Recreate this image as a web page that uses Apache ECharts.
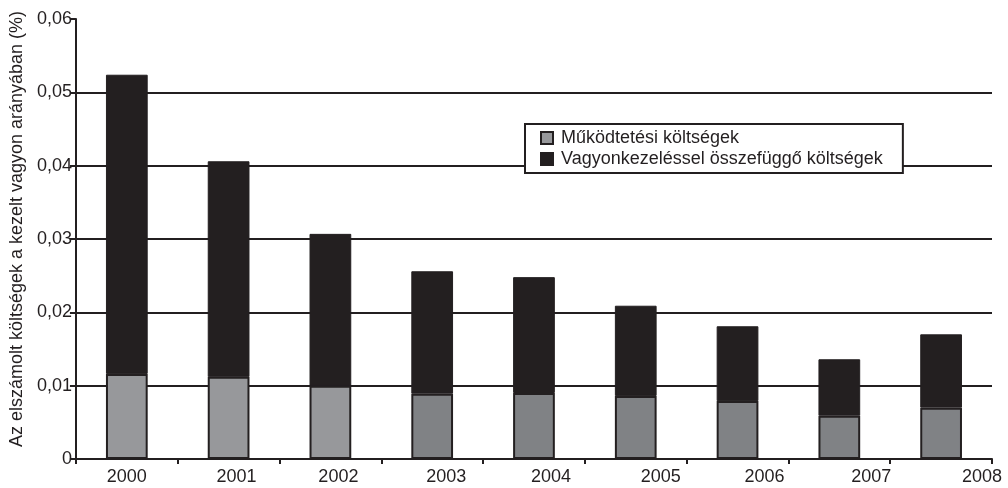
<!DOCTYPE html>
<html>
<head>
<meta charset="utf-8">
<script src="https://cdn.jsdelivr.net/npm/echarts@6/dist/echarts.min.js"></script>
<style>html,body{margin:0;padding:0;background:#fff}#c{width:1008px;height:488px}</style>
</head>
<body>
<div id="c"></div>
<script>
var years = ['2000','2001','2002','2003','2004','2005','2006','2007','2008'];
var mukodtetesi = [0.0116,0.0112,0.0100,0.0089,0.0090,0.0086,0.0079,0.0059,0.0070];
var vagyonkezeles = [0.0408,0.0294,0.0207,0.0167,0.0158,0.0123,0.0102,0.0077,0.0100];
var yTicks = [0, 0.01, 0.02, 0.03, 0.04, 0.05, 0.06];
var seriesNames = ['Működtetési költségek','Vagyonkezeléssel összefüggő költségek'];
var yAxisName = 'Az elszámolt költségek a kezelt vagyon arányában (%)';

var BLACK = '#231f20';
var LIGHT = '#97989b';
var DARK = '#808285';
var FONT = 'Liberation Sans, Arial, sans-serif';
var FS = 18;
var labelShift = [0, 8, 8, 14, 17, 25, 27, 32, 41];

var rich = {};
labelShift.forEach(function (s, i) {
  rich['l' + i] = { fontSize: FS, fontFamily: FONT, color: BLACK, padding: [0, 0, 0, 2 * s] };
});

var chart = echarts.init(document.getElementById('c'), null, { renderer: 'canvas' });
chart.setOption({
  animation: false,
  backgroundColor: '#fff',
  grid: { left: 73, right: 16, top: 19, bottom: 29, containLabel: false },
  legend: {
    orient: 'vertical',
    left: 525, top: 124,
    data: seriesNames,
    backgroundColor: '#fff',
    borderColor: BLACK, borderWidth: 2, borderRadius: 0,
    padding: [5, 20, 5, 15],
    itemWidth: 12, itemHeight: 12, itemGap: 3,
    icon: 'rect',
    textStyle: { fontSize: FS, fontFamily: FONT, color: BLACK, padding: [0, 0, 0, 3] },
    z: 10
  },
  xAxis: {
    type: 'category',
    data: years,
    axisLine: { lineStyle: { color: BLACK, width: 2 } },
    axisTick: { show: true, length: 5, lineStyle: { color: BLACK, width: 2 } },
    axisLabel: {
      margin: 9,
      formatter: function (v, i) { return '{l' + i + '|' + v + '}'; },
      rich: rich
    },
    splitLine: { show: false }
  },
  yAxis: {
    type: 'value',
    min: yTicks[0], max: yTicks[yTicks.length - 1], interval: 0.01,
    name: yAxisName,
    nameLocation: 'middle',
    nameGap: 47,
    nameTextStyle: { fontSize: FS, fontFamily: FONT, color: BLACK, padding: [0, 0, 0, 20] },
    axisLine: { show: true, lineStyle: { color: BLACK, width: 2 } },
    axisTick: { show: true, length: 6, lineStyle: { color: BLACK, width: 2 } },
    axisLabel: {
      margin: 4, fontSize: FS, fontFamily: FONT, color: BLACK,
      formatter: function (v) { return v === 0 ? '0' : v.toFixed(2).replace('.', ','); }
    },
    splitLine: { show: true, showMinLine: false, showMaxLine: false, lineStyle: { color: BLACK, width: 2 } }
  },
  series: [
    {
      name: seriesNames[0],
      type: 'bar',
      stack: 'total',
      barWidth: '41%',
      itemStyle: { color: LIGHT, borderColor: BLACK, borderWidth: 2 },
      data: mukodtetesi.map(function (v, i) {
        return i >= 3 ? { value: v, itemStyle: { color: DARK } } : v;
      }),
      z: 3
    },
    {
      name: seriesNames[1],
      type: 'bar',
      stack: 'total',
      barWidth: '41%',
      itemStyle: { color: BLACK, borderColor: BLACK, borderWidth: 1 },
      data: vagyonkezeles,
      z: 2
    }
  ]
});
</script>
</body>
</html>
